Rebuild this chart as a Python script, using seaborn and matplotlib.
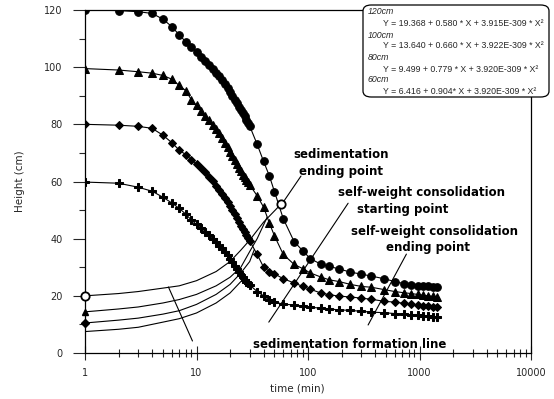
import numpy as np
import pandas as pd
import matplotlib.pyplot as plt
import seaborn as sns
from matplotlib.patches import FancyBboxPatch
from matplotlib.ticker import FixedLocator, NullFormatter

# ── DATA ───────────────────────────────────────────
time_min = [1, 2, 3, 4, 5, 6, 7, 8, 9, 10, 11, 12, 13, 14, 15, 16, 17, 18, 19, 20,
            21, 22, 23, 24, 25, 26, 27, 28, 29, 30, 35, 40, 45, 50, 60, 75, 90, 105,
            130, 155, 190, 240, 300, 370, 480, 600, 720, 840, 960, 1080, 1200, 1320, 1440]

h_120 = [120.0, 119.8, 119.4, 118.8, 116.8, 114.2, 111.3, 108.9, 107.0, 105.3, 103.6, 102.2,
         100.8, 99.4, 98.0, 96.8, 95.5, 94.1, 92.7, 91.3, 90.0, 88.6, 87.3, 86.2, 85.0, 84.0,
         82.8, 81.6, 80.4, 79.4, 73.0, 67.0, 62.0, 56.5, 47.0, 39.0, 35.7, 33.0, 31.1, 30.3,
         29.4, 28.3, 27.6, 26.9, 26.0, 25.0, 24.3, 23.9, 23.6, 23.4, 23.3, 23.2, 23.1]

h_100 = [99.5, 99.0, 98.4, 97.9, 97.1, 95.8, 93.6, 91.8, 88.6, 86.6, 84.8, 83.0, 81.4, 79.8,
         78.4, 77.0, 75.2, 73.6, 72.0, 70.4, 68.9, 67.4, 66.0, 64.7, 63.5, 62.4, 61.4, 60.5,
         59.8, 58.8, 55.0, 51.0, 45.5, 41.0, 34.5, 31.0, 29.5, 28.0, 26.6, 25.6, 25.0, 24.0,
         23.3, 23.0, 22.2, 21.5, 21.1, 20.8, 20.5, 20.2, 20.0, 19.8, 19.6]

h_80 = [80.0, 79.7, 79.3, 78.6, 76.2, 73.6, 71.0, 69.4, 67.6, 66.2, 64.6, 63.2, 61.6, 60.2,
        58.5, 57.0, 55.6, 54.2, 52.8, 51.4, 50.0, 48.6, 47.2, 45.8, 44.6, 43.4, 42.3, 41.2,
        40.2, 39.2, 34.5, 30.0, 28.5, 27.7, 26.0, 24.5, 23.3, 22.3, 21.0, 20.4, 19.9, 19.6,
        19.2, 18.8, 18.1, 17.8, 17.4, 17.0, 16.8, 16.6, 16.4, 16.2, 16.1]

h_60 = [59.8, 59.4, 58.0, 56.6, 54.5, 52.5, 50.6, 48.6, 46.5, 45.0, 43.7, 42.5, 41.3, 40.0,
        38.8, 37.6, 36.6, 35.4, 34.2, 33.0, 31.8, 30.6, 29.4, 28.4, 27.4, 26.5, 25.7, 25.0,
        24.4, 23.8, 21.5, 20.0, 18.5, 17.8, 17.1, 16.8, 16.4, 16.0, 15.7, 15.4, 15.1, 14.9,
        14.6, 14.3, 14.1, 13.8, 13.6, 13.4, 13.2, 13.0, 12.9, 12.7, 12.6]

# sedimentation formation lines (start at t = 1 min)
form_t_20 = [1, 2, 3, 5, 7, 10, 15, 20, 25, 30, 40, 57]
form_h_20 = [20.0, 20.8, 21.5, 22.7, 23.5, 25.3, 28.5, 32.0, 36.0, 39.5, 45.8, 52.0]
form_t_14 = [1, 2, 3, 5, 7, 10, 15, 20, 25, 30, 35, 43]
form_h_14 = [14.4, 15.4, 16.1, 17.5, 18.7, 20.5, 23.5, 26.5, 30.0, 35.5, 40.0, 47.5]
form_t_10 = [1, 2, 3, 5, 7, 10, 15, 20, 25, 30, 33]
form_h_10 = [10.5, 11.5, 12.2, 13.6, 14.8, 17.0, 20.5, 24.0, 28.0, 32.0, 36.2]
form_t_7 = [1, 2, 3, 5, 7, 10, 15, 20, 25, 27]
form_h_7 = [7.5, 8.3, 9.0, 10.8, 12.0, 14.0, 17.5, 21.0, 25.0, 26.0]

legend_lines = ["120cm", "Y = 19.368 + 0.580 * X + 3.915E-309 * X\u00b2",
                "100cm", "Y = 13.640 + 0.660 * X + 3.922E-309 * X\u00b2",
                "80cm", "Y = 9.499 + 0.779 * X + 3.920E-309 * X\u00b2",
                "60cm", "Y = 6.416 + 0.904* X + 3.920E-309 * X\u00b2"]

# ── FIGURE ────────────────────────────────────────
sns.set_style('ticks')
plt.rcParams['font.family'] = ['DejaVu Sans']

W, H = 554, 399
fig = plt.figure(figsize=(W / 100, H / 100), dpi=100)
ax = fig.add_axes([85 / W, 1 - 353 / H, (531 - 85) / W, (353 - 10) / H])

def px(x, y):
    return x / W, 1 - y / H

curves = [(h_120, 'o', 5.5), (h_100, '^', 5.5), (h_80, 'D', 4.2), (h_60, 'P', 6.0)]
for h, m, ms in curves:
    sns.lineplot(x=time_min, y=h, marker=m, markersize=ms, color='black',
                 markeredgecolor='black', linewidth=0.8, ax=ax, zorder=3)

for ft, fh in [(form_t_20, form_h_20), (form_t_14, form_h_14),
               (form_t_10, form_h_10), (form_t_7, form_h_7)]:
    sns.lineplot(x=ft, y=fh, color='black', linewidth=0.8, ax=ax, zorder=2)

# start markers on the formation lines
ax.plot([1], [14.4], marker='^', color='black', markersize=5, zorder=4, clip_on=False)
ax.plot([1], [10.5], marker='D', color='black', markersize=4, zorder=4, clip_on=False)
ax.plot([1, 57], [20, 52], linestyle='none', marker='o', markersize=6,
        markerfacecolor='white', markeredgecolor='black', markeredgewidth=1.3,
        zorder=5, clip_on=False)

# pointer lines for annotations
ax.plot([86.5, 58.3], [61.9, 52.1], color='black', linewidth=0.8)
ax.plot([229, 44.5], [52.4, 10.8], color='black', linewidth=0.8)
ax.plot([763, 346], [34.6, 9.8], color='black', linewidth=0.8)
ax.plot([9.2, 5.6], [4.2, 23.1], color='black', linewidth=0.8)

# annotation texts
tkw = dict(fontsize=8.5, fontweight='bold', color='black', va='center')
fig.text(*px(341, 155), "sedimentation", ha='center', **tkw)
fig.text(*px(341, 171), "ending point", ha='center', **tkw)
fig.text(*px(422, 193), "self-weight consolidation", ha='center', **tkw)
fig.text(*px(403, 209), "starting point", ha='center', **tkw)
fig.text(*px(435, 231), "self-weight consolidation", ha='center', **tkw)
fig.text(*px(428, 247), "ending point", ha='center', **tkw)
fig.text(*px(350, 345), "sedimentation formation line", ha='center', **tkw)

# equation box
box = FancyBboxPatch(px(363, 97), (549 - 363) / W, (97 - 5) / H,
                     boxstyle='round,pad=0,rounding_size=0.015',
                     transform=fig.transFigure, facecolor='white',
                     edgecolor='black', linewidth=0.9, zorder=10)
fig.patches.append(box)
ys = [12, 23, 35, 46, 58, 69, 80, 91]
for i, (txt, y) in enumerate(zip(legend_lines, ys)):
    x = 368 if i % 2 == 0 else 383
    fig.text(*px(x, y), txt, fontsize=6.3, ha='left', va='center', zorder=11,
             family=['Liberation Sans', 'DejaVu Sans'],
             style='italic' if i % 2 == 0 else 'normal')

# axes formatting
ax.set_xscale('log')
ax.set_xlim(1, 10000)
ax.set_ylim(0, 120)
ax.set_xticks([1, 10, 100, 1000, 10000])
ax.set_xticklabels(['1', '10', '100', '1000', '10000'])
ax.xaxis.set_minor_locator(FixedLocator([m * 10 ** d for d in range(4) for m in range(2, 10)]))
ax.xaxis.set_minor_formatter(NullFormatter())
ax.set_yticks(range(0, 121, 20))
ax.set_yticklabels(['0', '20', '40', '60', '80', '100', '120'])
ax.yaxis.set_minor_locator(FixedLocator(range(10, 120, 20)))
ax.tick_params(axis='y', which='major', direction='out', length=9, width=0.8, labelsize=7, pad=7)
ax.tick_params(axis='y', which='minor', direction='out', length=4, width=0.8)
ax.tick_params(axis='x', which='major', direction='inout', length=10, width=0.8, labelsize=7, pad=6)
ax.tick_params(axis='x', which='minor', direction='inout', length=6, width=0.8)
for s in ax.spines.values():
    s.set_linewidth(0.9)
    s.set_color('black')

ax.set_xlabel('time (min)', fontsize=7.5)
ax.xaxis.set_label_coords((297 - 85) / (531 - 85), -0.09)
ax.set_ylabel('Height (cm)', fontsize=7.5)
ax.yaxis.set_label_coords(-0.135, 0.5)

fig.savefig('out.png', dpi=100)
